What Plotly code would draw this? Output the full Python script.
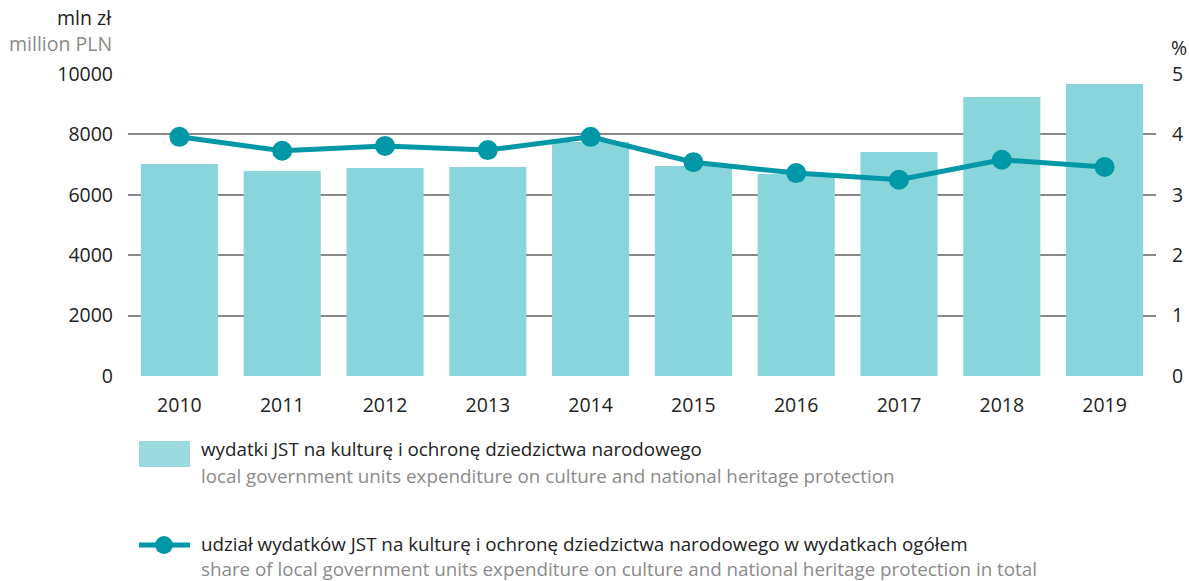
import plotly.graph_objects as go

years = ["2010", "2011", "2012", "2013", "2014", "2015", "2016", "2017", "2018", "2019"]
expenditure = [7020, 6790, 6890, 6920, 7750, 6950, 6690, 7420, 9240, 9670]
share = [3.96, 3.73, 3.81, 3.74, 3.96, 3.54, 3.36, 3.25, 3.58, 3.46]
left_ticks = [0, 2000, 4000, 6000, 8000, 10000]
left_labels = ["0", "2000", "4000", "6000", "8000", "10000"]
right_ticks = [0, 1, 2, 3, 4, 5]

BAR = "#88d6db"
LINE = "#0098a6"
FONT = "Open Sans"
DARK = "#222222"
GRAY = "#8a8a8a"
FS = 19.5
LFS = 18.8

W, H = 1189, 581
L, R, T, B = 128, 1156, 74, 376

def px(x):
    return (x - L) / (R - L)

def py(y):
    return (B - y) / (B - T)

fig = go.Figure()
fig.add_trace(go.Bar(x=years, y=expenditure, marker=dict(color=BAR, line=dict(width=0)),
                     width=0.75, yaxis="y", showlegend=False, hoverinfo="skip"))
fig.add_trace(go.Scatter(x=years, y=share, mode="lines+markers", yaxis="y2",
                         line=dict(color=LINE, width=5),
                         marker=dict(color=LINE, size=20), showlegend=False))

fig.update_layout(
    width=W, height=H,
    margin=dict(l=L, r=W - R, t=T, b=H - B),
    paper_bgcolor="white", plot_bgcolor="white",
    font=dict(family=FONT, size=FS, color=DARK),
    xaxis=dict(range=[-0.5, len(years) - 0.5], showgrid=False, showline=False, ticks="",
               tickfont=dict(size=FS, color=DARK), ticklabelstandoff=15, automargin=False),
    yaxis=dict(range=[0, 10000], tickvals=left_ticks, ticktext=left_labels, showgrid=True,
               gridcolor="#888888", gridwidth=1.5, zeroline=False,
               tickfont=dict(size=FS, color=DARK), ticklabelstandoff=14, automargin=False),
    yaxis2=dict(range=[0, 5], tickvals=right_ticks, overlaying="y", side="right",
                showgrid=False, zeroline=False, tickfont=dict(size=FS, color=DARK),
                ticklabelstandoff=15, automargin=False),
)

shapes = []
annotations = []
annotations.append(dict(x=px(114), y=py(17), xref="paper", yref="paper", text="mln zł",
                        showarrow=False, xanchor="right", yanchor="middle",
                        font=dict(size=FS, color=DARK, family=FONT)))
annotations.append(dict(x=px(114), y=py(44), xref="paper", yref="paper", text="million PLN",
                        showarrow=False, xanchor="right", yanchor="middle",
                        font=dict(size=FS, color=GRAY, family=FONT)))
annotations.append(dict(x=px(1179), y=py(47), xref="paper", yref="paper", text="%",
                        showarrow=False, xanchor="center", yanchor="middle",
                        font=dict(size=FS, color=DARK, family=FONT)))

shapes.append(dict(type="rect", xref="paper", yref="paper", x0=px(139), x1=px(190),
                   y0=py(467), y1=py(441), fillcolor="#9ad9dd", line=dict(width=0)))
shapes.append(dict(type="line", xref="paper", yref="paper", x0=px(139), x1=px(190),
                   y0=py(545), y1=py(545), line=dict(color=LINE, width=5)))
shapes.append(dict(type="circle", xref="paper", yref="paper", x0=px(155), x1=px(173),
                   y0=py(554), y1=py(536), fillcolor=LINE, line=dict(width=0)))

legend_texts = [
    ("wydatki JST na kulturę i ochronę dziedzictwa narodowego", 449, DARK),
    ("local government units expenditure on culture and national heritage protection", 476, GRAY),
    ("udział wydatków JST na kulturę i ochronę dziedzictwa narodowego w wydatkach ogółem", 544, DARK),
    ("share of local government units expenditure on culture and national heritage protection in total", 569, GRAY),
]
for txt, yy, col in legend_texts:
    annotations.append(dict(x=px(199), y=py(yy), xref="paper", yref="paper", text=txt,
                            showarrow=False, xanchor="left", yanchor="middle",
                            font=dict(size=LFS, color=col, family=FONT)))

fig.update_layout(shapes=shapes, annotations=annotations)
fig.write_html("out.html", config={"displayModeBar": False},
               post_script="document.body.style.margin='0';document.body.style.overflow='hidden';")
